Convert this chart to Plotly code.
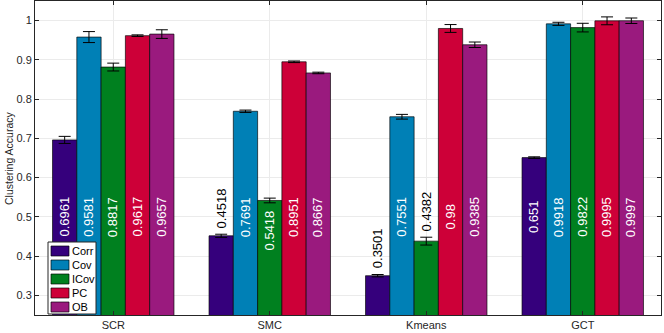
import plotly.graph_objects as go

categories = ["SCR", "SMC", "Kmeans", "GCT"]
series_names = ["Corr", "Cov", "ICov", "PC", "OB"]
corr = [0.6961, 0.4518, 0.3501, 0.651]
cov = [0.9581, 0.7691, 0.7551, 0.9918]
icov = [0.8817, 0.5418, 0.4382, 0.9822]
pc = [0.9617, 0.8951, 0.98, 0.9995]
ob = [0.9657, 0.8667, 0.9385, 0.9997]
corr_err = [0.009, 0.004, 0.003, 0.002]
cov_err = [0.014, 0.003, 0.006, 0.004]
icov_err = [0.010, 0.006, 0.010, 0.011]
pc_err = [0.002, 0.002, 0.010, 0.010]
ob_err = [0.011, 0.002, 0.007, 0.007]
y_ticks = [0.3, 0.4, 0.5, 0.6, 0.7, 0.8, 0.9, 1.0]
y_tick_labels = ["0.3", "0.4", "0.5", "0.6", "0.7", "0.8", "0.9", "1"]

values = [corr, cov, icov, pc, ob]
errors = [corr_err, cov_err, icov_err, pc_err, ob_err]
colors = ["#35007C", "#0080B6", "#00801F", "#CD0038", "#9A1A7E"]

FONT = "Liberation Sans, Arial, Helvetica, sans-serif"
W, H = 664, 333
ML, MR, MT, MB = 35, 3, 1, 18
BARGAP = 0.224
YMIN, YMAX = 0.25, 1.05

fig = go.Figure()
xs = list(range(len(categories)))
for name, vals, errs, col in zip(series_names, values, errors, colors):
    fig.add_trace(go.Bar(
        x=xs, y=vals, name=name,
        marker=dict(color=col, line=dict(color="rgba(0,0,0,0.65)", width=1)),
        error_y=dict(type="data", array=errs, visible=True, color="black",
                     thickness=1, width=6),
        showlegend=False,
    ))

# value labels
n = len(series_names)
bw = (1 - BARGAP) / n
annotations = []
for si, (vals, errs) in enumerate(zip(values, errors)):
    for gi, v in enumerate(vals):
        xpos = gi + (si - (n - 1) / 2) * bw
        txt = str(v)
        if v >= 0.5:
            annotations.append(dict(
                x=xpos, y=min(0.5, v - 0.077), xref="x", yref="y",
                text=txt, textangle=-90, showarrow=False,
                xanchor="center", yanchor="middle",
                font=dict(family=FONT, size=13, color="white")))
        else:
            annotations.append(dict(
                x=xpos, y=v + errs[gi], xref="x", yref="y",
                text=txt, textangle=-90, showarrow=False,
                xanchor="center", yanchor="bottom", yshift=4,
                font=dict(family=FONT, size=13, color="black")))

# custom legend (MATLAB style) in paper coords
PW, PH = W - ML - MR, H - MT - MB
def px_x(p):
    return (p - ML) / PW
def px_y(p):
    return (H - MB - p) / PH

shapes = []
lx0, lx1, ly0, ly1 = 48, 96, 242, 314
shapes.append(dict(type="rect", xref="paper", yref="paper",
                   x0=px_x(lx0), x1=px_x(lx1), y0=px_y(ly1), y1=px_y(ly0),
                   fillcolor="white", line=dict(color="#262626", width=1), layer="above"))
step = (ly1 - ly0 - 2) / n
for i, (name, col) in enumerate(zip(series_names, colors)):
    top = ly0 + 2 + i * step + 2
    bot = top + step - 4
    shapes.append(dict(type="rect", xref="paper", yref="paper",
                       x0=px_x(lx0 + 3), x1=px_x(lx0 + 21), y0=px_y(bot), y1=px_y(top),
                       fillcolor=col, line=dict(color="rgba(0,0,0,0.65)", width=1), layer="above"))
    annotations.append(dict(xref="paper", yref="paper", x=px_x(lx0 + 22), y=px_y((top + bot) / 2),
                            text=name, showarrow=False, xanchor="left", yanchor="middle",
                            font=dict(family=FONT, size=11, color="black")))

# y axis title as annotation
annotations.append(dict(xref="paper", yref="paper", x=px_x(1), y=0.5, text="Clustering Accuracy",
                        textangle=-90, showarrow=False, xanchor="left", yanchor="middle",
                        font=dict(family=FONT, size=10.5, color="#262626")))

fig.update_layout(
    width=W, height=H,
    margin=dict(l=ML, r=MR, t=MT, b=MB, autoexpand=False),
    paper_bgcolor="white", plot_bgcolor="white",
    barmode="group", bargap=BARGAP, bargroupgap=0,
    font=dict(family=FONT, size=11, color="#262626"),
    annotations=annotations, shapes=shapes,
    xaxis=dict(tickmode="array", tickvals=xs, ticktext=categories,
               range=[-0.5, len(categories) - 0.5], automargin=False,
               showgrid=True, gridcolor="#EBEBEB", gridwidth=1,
               showline=True, linecolor="#262626", linewidth=1, mirror="ticks",
               ticks="inside", ticklen=4, tickcolor="#262626",
               tickfont=dict(size=11, color="#262626"), zeroline=False),
    yaxis=dict(tickmode="array", tickvals=y_ticks, ticktext=y_tick_labels,
               range=[YMIN, YMAX], automargin=False,
               showgrid=True, gridcolor="#EBEBEB", gridwidth=1,
               showline=True, linecolor="#262626", linewidth=1, mirror="ticks",
               ticks="inside", ticklen=4, tickcolor="#262626",
               tickfont=dict(size=11, color="#262626"), zeroline=False),
)

fig.write_html("out.html", config={"displayModeBar": False},
               post_script="document.body.style.margin='0';document.body.style.overflow='hidden';")
